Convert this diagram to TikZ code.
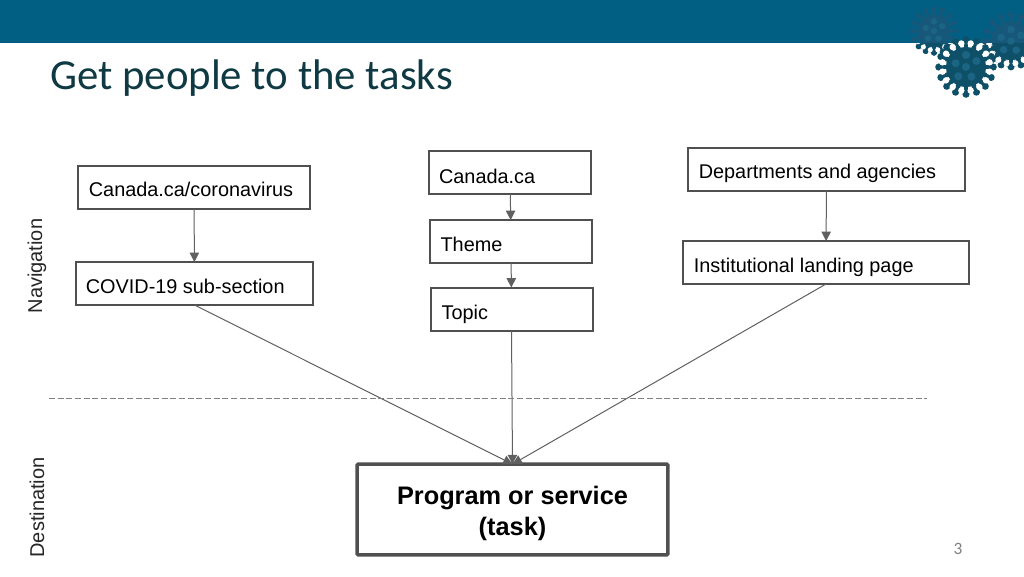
\documentclass[tikz,border=0pt]{standalone}
\usepackage{fontspec}
\setmainfont{Liberation Sans}
\newfontfamily\titlefont{Carlito}
\definecolor{banner}{HTML}{005F83}
\definecolor{titlecol}{HTML}{0F3A44}
\definecolor{edgecol}{HTML}{505050}
\definecolor{conncol}{HTML}{606060}
\definecolor{vcore}{HTML}{0F5069}
\definecolor{vblob}{HTML}{1B6484}
\definecolor{vdim}{HTML}{17587A}
\usetikzlibrary{arrows.meta}
\tikzset{
  box/.style={draw=edgecol,line width=1.5pt,fill=white,inner xsep=7.5pt,inner ysep=0pt,outer sep=0pt,
    minimum height=32.25pt,align=left,text depth=0pt},
  boxtext/.style={anchor=base west,inner sep=0pt,font=\fontsize{14.9}{18}\selectfont},
  conn/.style={draw=conncol,line width=0.75pt,-{Triangle[length=7pt,width=7pt]}},
  sidelabel/.style={rotate=90,font=\fontsize{15}{17}\selectfont,text=black!85!white,inner sep=0pt},
  pics/virus/.style args={#1/#2/#3}{code={
    \foreach \a in {0,22.5,...,337.5}{
      \draw[#1,line width=3.6pt] (0,0) -- (\a:#2*1.3);
      \fill[#1] (\a:#2*1.36) circle (#2*0.18);
    }
    \foreach \a in {0,22.5,...,337.5}{
      \fill[#3] (\a+11.25:#2*1.2) circle (#2*0.16);
    }
    \fill[#1] (0,0) circle (#2);
    \foreach \a/\r in {0/0,60/.55,130/.6,200/.55,270/.6,330/.6}{
      \fill[vblob] (\a:#2*\r) circle (#2*.2);
    }
  }}
}
\begin{document}
\begin{tikzpicture}[x=0.75pt,y=-0.75pt]
\useasboundingbox (0,0) rectangle (1024,576);
\clip (0,0) rectangle (1024,576);
\fill[white] (0,0) rectangle (1024,576);
\fill[banner] (0,0) rectangle (1024,43);
\pic at (934,31) {virus={vdim/16/banner}};
\pic at (1011,41) {virus={vdim/19/banner}};
\begin{scope}
\clip (884,43) rectangle (1024,110);
\pic at (934,31) {virus={vcore/16/white}};
\pic at (1011,41) {virus={vcore/19/white}};
\end{scope}
\pic at (966,67) {virus={vcore/20/white}};
\node[anchor=base west,inner sep=0pt,text=titlecol,font=\titlefont\fontsize{32.1}{36}\selectfont] (title) at (50,89) {Get people to the tasks};

\node[box,text width=159pt] (corona) at (194,187.5) {};
\node[box,text width=162.75pt] (covid) at (194.5,283.5) {};
\node[box,text width=106.5pt] (canada) at (510,172.5) {};
\node[box,text width=106.5pt] (theme) at (511,241.5) {};
\node[box,text width=106.5pt] (topic) at (511.5,309) {};
\node[box,text width=192.75pt] (dept) at (826.5,169.5) {};
\node[box,text width=199.5pt] (inst) at (826,262.5) {};
\node[boxtext] (coronat) at (88.6,196) {Canada.ca/coronavirus};
\node[boxtext] (covidt) at (85.6,293.5) {COVID-19 sub-section};
\node[boxtext] (canadat) at (438.8,183) {Canada.ca};
\node[boxtext] (themet) at (440.3,251.5) {Theme};
\node[boxtext] (topict) at (441.3,319) {Topic};
\node[boxtext] (deptt) at (698.5,178) {Departments and agencies};
\node[boxtext] (instt) at (693.6,272) {Institutional landing page};
\node[draw=edgecol,line width=2.7pt,fill=white,rounded corners=0.8pt,minimum width=233pt,minimum height=68pt,
  inner sep=0pt,outer sep=0pt] (task) at (512.5,509.5) {};
\node[align=center,inner sep=0pt,font=\bfseries\fontsize{19}{23.5}\selectfont] (taskt) at (512.5,513.2) {Program or service\\(task)};

\draw[conn] (corona) -- (covid);
\draw[conn] (canada) -- (theme);
\draw[conn] (theme) -- (topic);
\draw[conn] (dept) -- (inst);
\draw[conn] (covid.south) -- (task.north);
\draw[conn] (topic.south) -- (task.north);
\draw[conn] (inst.south) -- (task.north);

\coordinate (dl) at (49,398);
\coordinate (dr) at (927,398);
\draw[draw=gray,line width=0.75pt,dash pattern=on 4.5pt off 2pt] (dl) -- (dr);

\node[sidelabel] (nav) at (37,266) {Navigation};
\node[sidelabel] (dest) at (37,507.5) {Destination};
\node[text=gray,font=\titlefont\fontsize{13}{14}\selectfont,inner sep=0pt] (num) at (958,549) {3};
\end{tikzpicture}
\end{document}
